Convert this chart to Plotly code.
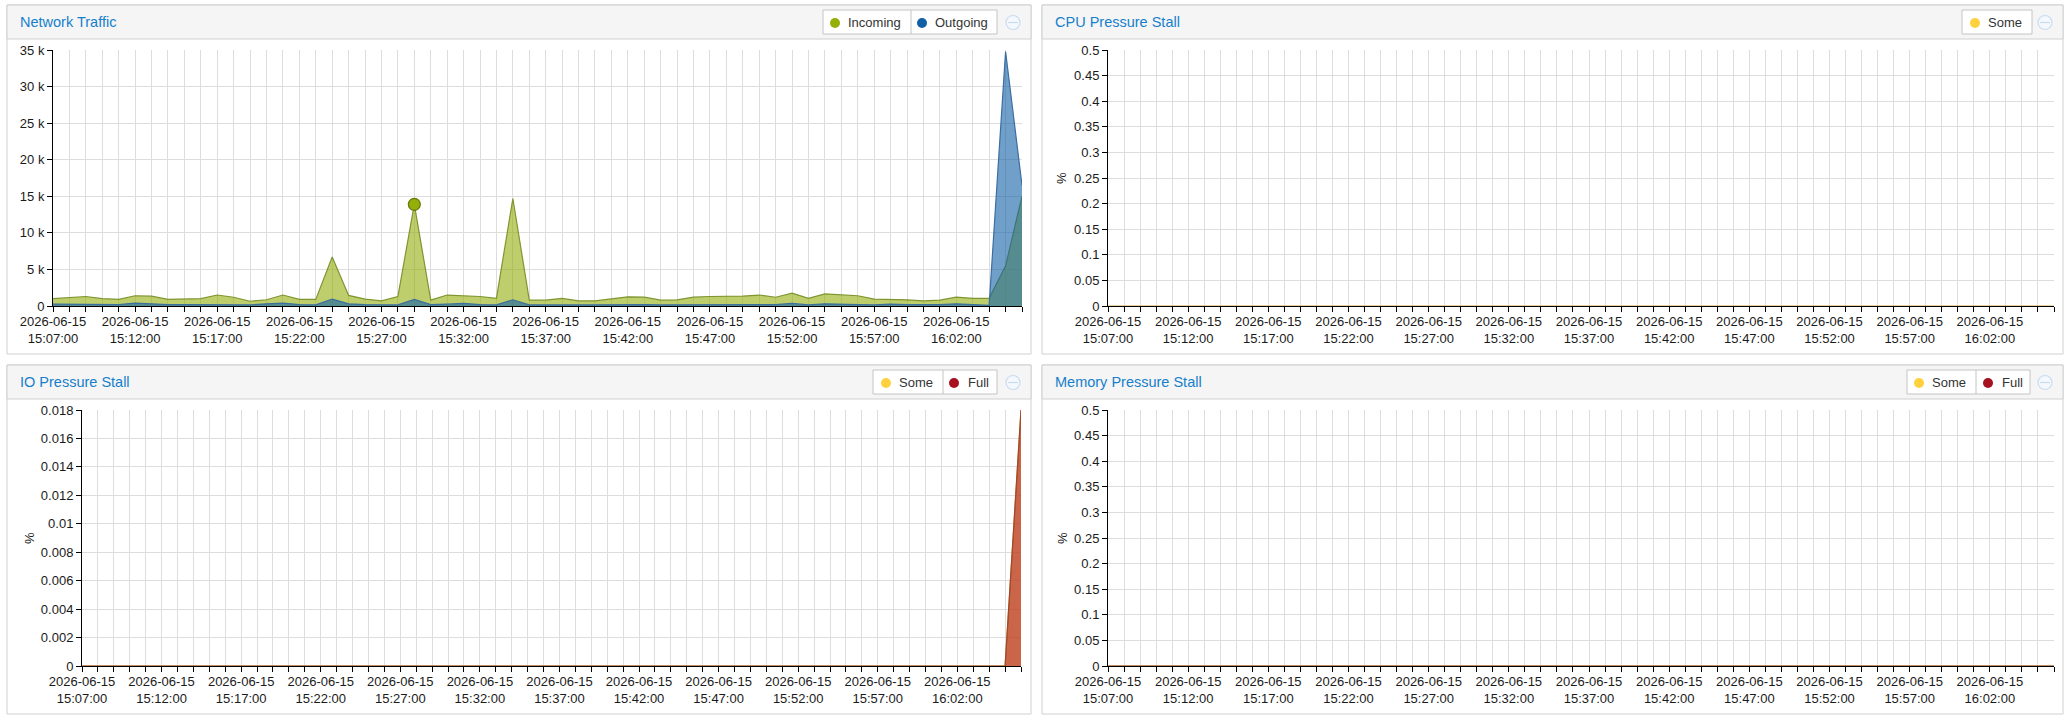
import plotly.graph_objects as go
import pandas as pd

W, H = 2069, 722

# ---------------- data ----------------
times = [pd.Timestamp("2026-06-15 15:07:00") + pd.Timedelta(minutes=i) for i in range(60)]
times = [t.strftime("%Y-%m-%d %H:%M:%S") for t in times]

incoming = [1000, 1150, 1300, 1000, 900, 1400, 1350, 900, 900, 1000,
            1500, 1200, 650, 850, 1500, 900, 900, 6700, 1450, 950,
            700, 1300, 13900, 800, 1500, 1450, 1300, 1050, 14700, 800,
            800, 1050, 700, 700, 1000, 1250, 1200, 800, 850, 1200,
            1300, 1300, 1350, 1500, 1200, 1750, 1050, 1650, 1500, 1400,
            950, 950, 850, 700, 800, 1200, 1050, 1050, 5500, 15000]
outgoing = [250, 250, 300, 200, 200, 400, 250, 200, 200, 200,
            250, 200, 150, 300, 400, 200, 150, 950, 300, 200,
            200, 150, 900, 200, 250, 350, 200, 150, 850, 150,
            150, 200, 150, 150, 200, 200, 200, 150, 150, 200,
            200, 200, 200, 150, 200, 350, 150, 300, 200, 200,
            150, 250, 200, 150, 200, 300, 200, 100, 34800, 16500]
cpu_some = [0.0] * 60
io_some = [0.0] * 59 + [0.018]
io_full = [0.0] * 59 + [0.018]
mem_some = [0.0] * 60
mem_full = [0.0] * 60

hover_index = 22

net_ticks = [0, 5000, 10000, 15000, 20000, 25000, 30000, 35000]
net_ticktext = ["0", "5 k", "10 k", "15 k", "20 k", "25 k", "30 k", "35 k"]
pct_ticks = [0, 0.05, 0.1, 0.15, 0.2, 0.25, 0.3, 0.35, 0.4, 0.45, 0.5]
pct_ticktext = ["0", "0.05", "0.1", "0.15", "0.2", "0.25", "0.3", "0.35", "0.4", "0.45", "0.5"]
io_ticks = [0, 0.002, 0.004, 0.006, 0.008, 0.01, 0.012, 0.014, 0.016, 0.018]
io_ticktext = ["0", "0.002", "0.004", "0.006", "0.008", "0.01", "0.012", "0.014", "0.016", "0.018"]
x_ticktext = [(t[:10] + "<br>" + t[11:]) if i % 5 == 0 else "" for i, t in enumerate(times)]

titles = ["Network Traffic", "CPU Pressure Stall", "IO Pressure Stall", "Memory Pressure Stall"]

# ---------------- styling ----------------
FONT = "Liberation Sans, Arial, Helvetica, sans-serif"
C_IN, C_OUT, C_SOME, C_FULL = "#94ae0a", "#115fa6", "#ffd13e", "#a61120"


def rgba(hexc, a):
    h = hexc.lstrip("#")
    return "rgba(%d,%d,%d,%s)" % (int(h[0:2], 16), int(h[2:4], 16), int(h[4:6], 16), a)


def px(x):
    return x / W


def py(y):
    return 1 - y / H


fig = go.Figure()


def area(name, y, color, edge, xa, ya):
    fig.add_trace(go.Scatter(
        x=times, y=y, name=name, mode="lines", fill="tozeroy",
        fillcolor=rgba(color, 0.6), line=dict(color=edge, width=1.2),
        xaxis=xa, yaxis=ya, showlegend=False, hoverinfo="skip"))


area("Incoming", incoming, C_IN, "#7f9530", "x", "y")
area("Outgoing", outgoing, C_OUT, "#3c6e9f", "x", "y")
fig.add_trace(go.Scatter(
    x=[times[hover_index]], y=[incoming[hover_index]], mode="markers",
    marker=dict(size=12, color=C_IN, line=dict(color="#66780a", width=1.2)),
    xaxis="x", yaxis="y", showlegend=False, hoverinfo="skip"))
area("Some", cpu_some, C_SOME, "#d9a640", "x2", "y2")
area("Some", io_some, C_SOME, "#d9a640", "x3", "y3")
area("Full", io_full, C_FULL, "#9c4a2a", "x3", "y3")
area("Some", mem_some, C_SOME, "#d9a640", "x4", "y4")
area("Full", mem_full, C_FULL, "#9c4a2a", "x4", "y4")

# plot areas (pixel boxes: left, right, top, bottom)
plots = [
    (53, 1022, 50, 306),
    (1108, 2054, 50, 306),
    (82, 1021, 410, 666),
    (1108, 2054, 410, 666),
]
yspecs = [
    (net_ticks, net_ticktext, [0, 35000]),
    (pct_ticks, pct_ticktext, [0, 0.5]),
    (io_ticks, io_ticktext, [0, 0.018]),
    (pct_ticks, pct_ticktext, [0, 0.5]),
]

layout = dict(
    width=W, height=H, margin=dict(l=0, r=0, t=0, b=0, pad=0, autoexpand=False),
    autosize=False,
    paper_bgcolor="white", plot_bgcolor="rgba(0,0,0,0)",
    font=dict(family=FONT, size=13, color="#1a1a1a"),
    showlegend=False,
)

for i, ((l, r, t, b), (tv, tt, rg)) in enumerate(zip(plots, yspecs)):
    sfx = "" if i == 0 else str(i + 1)
    layout["xaxis" + sfx] = dict(
        domain=[px(l), px(r)], anchor="y" + sfx, type="date", automargin=False,
        range=[times[0], times[-1]], tickmode="array", tickvals=times, ticktext=x_ticktext,
        showgrid=True, gridcolor="#dddddd", gridwidth=1, showline=True, linecolor="#000000",
        linewidth=1, ticks="outside", ticklen=5, tickcolor="#000000", tickangle=0,
        ticklabelstandoff=-2,
        tickfont=dict(size=13, color="#1a1a1a"), zeroline=False, fixedrange=True)
    layout["yaxis" + sfx] = dict(
        domain=[py(b), py(t)], anchor="x" + sfx, range=rg, tickmode="array", automargin=False,
        tickvals=tv, ticktext=tt, showgrid=True, gridcolor="#dddddd", gridwidth=1,
        showline=True, linecolor="#000000", linewidth=1, ticks="outside", ticklen=5,
        tickcolor="#000000", tickfont=dict(size=13, color="#1a1a1a"), zeroline=False,
        fixedrange=True)

shapes = []
annotations = []

# panels (left, right, top, header bottom, bottom)
panels = [
    (7, 1031, 5, 39, 354),
    (1042, 2063, 5, 39, 354),
    (7, 1031, 365, 399, 714),
    (1042, 2063, 365, 399, 714),
]
for (l, r, t, hb, b), title in zip(panels, titles):
    shapes.append(dict(type="rect", xref="paper", yref="paper", x0=px(l), x1=px(r), y0=py(b), y1=py(t),
                       fillcolor="white", line=dict(color="#d0d0d0", width=1), layer="below"))
    shapes.append(dict(type="rect", xref="paper", yref="paper", x0=px(l), x1=px(r), y0=py(hb), y1=py(t),
                       fillcolor="#f5f5f5", line=dict(color="#d0d0d0", width=1), layer="below"))
    annotations.append(dict(text=title, xref="paper", yref="paper", x=px(l + 11), y=py((t + hb) / 2),
                            xanchor="left", yanchor="middle", showarrow=False,
                            font=dict(family=FONT, size=14.5, color="#157fcc")))
    # collapse icon
    cx, cy = r - 18, (t + hb) / 2 + 0.5
    shapes.append(dict(type="circle", xref="paper", yref="paper", x0=px(cx - 7), x1=px(cx + 7),
                       y0=py(cy + 7), y1=py(cy - 7), fillcolor="#f4f8fc",
                       line=dict(color="#c9dcef", width=1.2)))
    shapes.append(dict(type="line", xref="paper", yref="paper", x0=px(cx - 5), x1=px(cx + 5),
                       y0=py(cy), y1=py(cy), line=dict(color="#c9dcef", width=1.2)))

# legends: (box left, box right, top, items [(circle x, text x, label, color)], dividers)
legends = [
    (823, 997, 10, [(835, 846, "Incoming", C_IN), (922, 933, "Outgoing", C_OUT)], [911]),
    (1962, 2032, 10, [(1975, 1986, "Some", C_SOME)], []),
    (873, 997, 370, [(886, 897, "Some", C_SOME), (954, 966, "Full", C_FULL)], [943]),
    (1907, 2030, 370, [(1919, 1930, "Some", C_SOME), (1988, 2000, "Full", C_FULL)], [1976]),
]
for l, r, t, items, divs in legends:
    b = t + 24
    shapes.append(dict(type="rect", xref="paper", yref="paper", x0=px(l), x1=px(r), y0=py(b), y1=py(t),
                       fillcolor="white", line=dict(color="#c4c4c4", width=1)))
    for d in divs:
        shapes.append(dict(type="line", xref="paper", yref="paper", x0=px(d), x1=px(d), y0=py(b), y1=py(t),
                           line=dict(color="#c4c4c4", width=1)))
    cy = t + 13
    for cx, tx, label, col in items:
        shapes.append(dict(type="circle", xref="paper", yref="paper", x0=px(cx - 5), x1=px(cx + 5),
                           y0=py(cy + 5), y1=py(cy - 5), fillcolor=col, line=dict(color=col, width=0)))
        annotations.append(dict(text=label, xref="paper", yref="paper", x=px(tx), y=py(t + 12),
                                xanchor="left", yanchor="middle", showarrow=False,
                                font=dict(family=FONT, size=13, color="#333333")))

# "%" axis titles
for xx, yy in [(1062, 178), (29, 538), (1062, 538)]:
    annotations.append(dict(text="%", xref="paper", yref="paper", x=px(xx), y=py(yy),
                            xanchor="center", yanchor="middle", showarrow=False, textangle=-90,
                            font=dict(family=FONT, size=13, color="#1a1a1a")))

layout["shapes"] = shapes
layout["annotations"] = annotations
fig.update_layout(**layout)

fig.write_html(
    "out.html",
    config={"displayModeBar": False, "responsive": False},
    post_script="document.body.style.margin='0';document.body.style.padding='0';"
                "document.body.style.overflow='hidden';",
)
